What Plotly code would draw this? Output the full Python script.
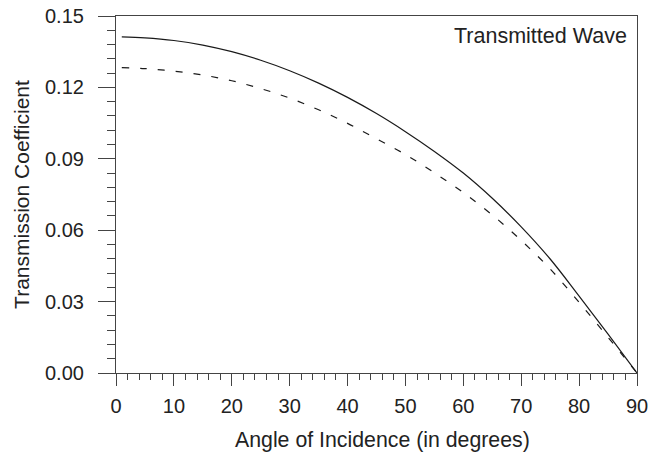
import plotly.graph_objects as go

# Angle of incidence (degrees)
angle = [1, 5, 10, 15, 20, 25, 30, 35, 40, 45, 50, 55, 60, 65, 70, 75, 80, 85, 90]

# Transmission coefficient, solid curve
trans_solid = [0.1412, 0.1408, 0.1397, 0.1378, 0.1350, 0.1314, 0.1270, 0.1218, 0.1158,
               0.1090, 0.1014, 0.0931, 0.0840, 0.0734, 0.0614, 0.0479, 0.0323, 0.0163, 0.0]

# Transmission coefficient, dashed curve
trans_dashed = [0.1283, 0.1279, 0.1268, 0.1252, 0.1228, 0.1195, 0.1155, 0.1106, 0.1049,
                0.0984, 0.0918, 0.0841, 0.0758, 0.0664, 0.0557, 0.0437, 0.0297, 0.0150, 0.0]

y_ticks = [0.00, 0.03, 0.06, 0.09, 0.12, 0.15]
x_ticks = [0, 10, 20, 30, 40, 50, 60, 70, 80, 90]

axis_color = "#444444"
text_color = "#222222"
font_family = "Liberation Sans, Arial, sans-serif"

fig = go.Figure()
fig.add_trace(go.Scatter(x=angle, y=trans_solid, mode="lines", line_shape="spline",
                         line=dict(color="#1a1a1a", width=1.2), showlegend=False))
fig.add_trace(go.Scatter(x=angle, y=trans_dashed, mode="lines", line_shape="spline",
                         line=dict(color="#1a1a1a", width=1.2, dash="7px,11px"),
                         showlegend=False))

fig.add_annotation(text="Transmitted Wave", xref="paper", yref="paper",
                   x=0.9846, y=0.9426, xanchor="right", yanchor="middle",
                   showarrow=False, font=dict(size=21.5, color=text_color, family=font_family))

# x-axis title, placed as free text below the tick labels
fig.add_annotation(text="Angle of Incidence (in degrees)", xref="paper", yref="paper",
                   x=0.5115, y=-0.187, xanchor="center", yanchor="middle",
                   showarrow=False, font=dict(size=21.3, color=text_color, family=font_family))

fig.update_xaxes(range=[0, 90], tickvals=x_ticks, ticks="outside", ticklen=12,
                 tickwidth=1.2, tickcolor=axis_color, ticklabelstandoff=3,
                 ticklabeloverflow="allow",
                 minor=dict(dtick=2, ticklen=6, tickcolor=axis_color, ticks="outside"),
                 showline=True, linecolor=axis_color, linewidth=1.2, mirror=True,
                 showgrid=False, zeroline=False, automargin=False,
                 tickfont=dict(size=20, color=text_color, family=font_family))
fig.update_yaxes(range=[0, 0.15], tickvals=y_ticks, tickformat=".2f", ticks="outside",
                 ticklen=17, tickwidth=1.2, tickcolor=axis_color, ticklabelstandoff=10,
                 ticklabeloverflow="allow",
                 minor=dict(dtick=0.006, ticklen=8, tickcolor=axis_color, ticks="outside"),
                 showline=True, linecolor=axis_color, linewidth=1.2, mirror=True,
                 showgrid=False, zeroline=False, automargin=False,
                 title=dict(text="Transmission Coefficient", standoff=9,
                            font=dict(size=21, color=text_color, family=font_family)),
                 tickfont=dict(size=20, color=text_color, family=font_family))

fig.update_layout(width=648, height=454, margin=dict(l=116, r=11, t=16, b=81),
                  plot_bgcolor="white", paper_bgcolor="white")

fig.write_html("out.html")
